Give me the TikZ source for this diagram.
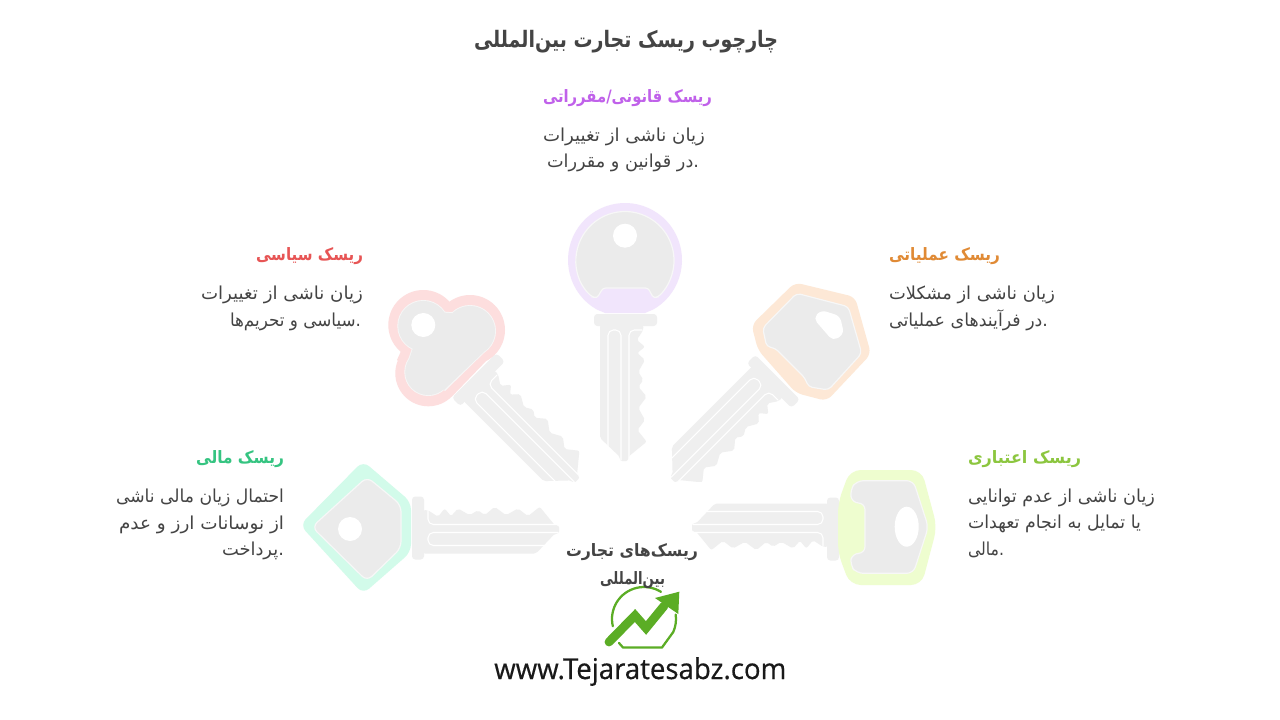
\documentclass[tikz,border=0pt]{standalone}
\usepackage{fontspec}
\usepackage{graphicx}
\TeXXeTstate=1
\newfontfamily\fa[Script=Arabic]{DejaVu Sans}
\newfontfamily\logofont[FakeBold=0.5]{Open Sans}
\definecolor{keygrey}{HTML}{EBEBEB}
\definecolor{bladegrey}{HTML}{EFEFEF}
\definecolor{txt}{HTML}{444444}
\definecolor{cpurple}{HTML}{C061EA}
\definecolor{cred}{HTML}{E75555}
\definecolor{corange}{HTML}{E08A35}
\definecolor{clime}{HTML}{8CC63F}
\definecolor{cgreen}{HTML}{35C481}
\definecolor{rpurple}{HTML}{F1E5FC}
\definecolor{rred}{HTML}{FDDEDE}
\definecolor{rorange}{HTML}{FDE8D6}
\definecolor{rlime}{HTML}{EEFDCF}
\definecolor{rgreen}{HTML}{D2FBEA}
\definecolor{logog}{HTML}{5BAD25}
\tikzset{
  line/.style={inner sep=0pt,outer sep=0pt,anchor=base west},
  whiteline/.style={draw=white,line width=0.8pt,line cap=round,line join=round},
  headline/.style={fill=keygrey,draw=white!60!keygrey,line width=0.9pt},
  logostroke/.style={draw=logog,line width=1.7pt,line cap=round,line join=round}
}
\newcommand{\bodyf}{\fa\fontsize{13.4pt}{16pt}\selectfont}
\newcommand{\headf}{\fa\bfseries\fontsize{12.8pt}{16pt}\selectfont}
\newcommand{\titlef}{\fa\bfseries\fontsize{17pt}{20pt}\selectfont}
% name, left, right, baseline, font, colour, text
\newcommand{\tline}[7]{%
  \pgfmathsetmacro\tw{(#3-#2)*0.75}%
  \node[line,text=#6] (#1) at (#2,#4) {\resizebox{\tw pt}{\height}{#5#7}};}
% x, y, rotation
\newcommand{\keyblade}[3]{%
\begin{scope}[shift={(#1,#2)},rotate=#3]
  \fill[bladegrey,rounded corners=2.5] (-31,-6) rectangle (32,6);
  \fill[bladegrey,rounded corners=1.5] (-25,5) -- (-25,118) -- (-5,137) -- (-5,141) -- (3,141) -- (3,137) -- (21.7,121.7)
    -- (12.3,110) -- (20,100) -- (13.3,88) -- (21.7,76.7) -- (13.3,66.7) -- (18.3,60) -- (13.3,51.7)
    -- (20,40) -- (12.3,33) -- (20,26.7) -- (11.7,20) -- (18.3,10) -- (18.3,5) -- cycle;
  \draw[whiteline,rounded corners=4] (-17,128) -- (-17,10) -- (-4,10) -- (-4,140);
  \draw[whiteline,rounded corners=4] (4,138) -- (4,10) -- (17,10);
\end{scope}}
\begin{document}
\begin{tikzpicture}[x=0.75pt,y=-0.75pt]
\useasboundingbox (0,0) rectangle (1280,720);
\fill[white] (0,0) rectangle (1280,720);

% --- purple key
\keyblade{625}{320}{0}
\fill[rpurple] (625,260) ++(120:57) arc[start angle=120,end angle=420,radius=57] -- (645,313) -- (605,313) -- cycle;
\draw[headline,rounded corners=2]
  (625,260.5) ++(132:49) arc[start angle=132,end angle=408,radius=49]
  -- (653.5,298) -- (648,288) -- (603,288) -- (597,298) -- cycle;
\fill[white] (625,235.7) circle[radius=12];

% --- red key
\begin{scope}
  \clip (0,0) rectangle (579,481);
  \keyblade{478}{380}{45}
\end{scope}
\fill[rred] (423.3,325) circle[radius=35] (470,330) circle[radius=35] (428.3,373.3) circle[radius=33]
  (424,300) -- (494,305) -- (496.7,350) -- (451.7,396.7) -- (397,360) -- cycle;
\fill[white!60!keygrey] (423.3,326) circle[radius=26] (470,331) circle[radius=26] (428.3,372) circle[radius=24]
  (425,310) -- (485,315) -- (488,349) -- (445,391) -- (408,360) -- cycle;
\fill[keygrey] (423.3,326) circle[radius=25.1] (470,331) circle[radius=25.1] (428.3,372) circle[radius=23.1]
  (425,311) -- (485,316) -- (487,349) -- (444,390) -- (409,360) -- cycle;
\fill[white] (423.3,325) circle[radius=12];

% --- orange key
\begin{scope}
  \clip (671,0) rectangle (1280,481);
  \keyblade{773}{381}{-45}
\end{scope}
\fill[rorange,rounded corners=5] (795,282.5) -- (855,297) -- (871,354) -- (826.7,401) -- (796,393) -- (758,350) -- (751.5,325) -- cycle;
\draw[headline,rounded corners=3]
  (796.7,293.3) -- (848.3,306.7) -- (861.7,353.3) -- (828.3,390) -- (808.3,386.7) -- (805,378) -- (775,348) -- (766.7,346.7) -- (762.7,328) -- cycle;
\fill[white,rounded corners=4] (813.3,318.3) -- (821,310) -- (840,316) -- (844,334) -- (833,341) -- cycle;

% --- green key
\keyblade{418}{528.5}{90}
\fill[rgreen,rounded corners=6] (363,461) -- (300,525) -- (363,594) -- (411,552) -- (411,502) -- cycle;
\draw[headline,rounded corners=5]
  (367,477) -- (312,527) -- (367,581) -- (401,548) -- (401,505) -- cycle;
\fill[white] (350,529) circle[radius=12];

% --- lime key
\keyblade{833}{528.5}{-90}
\fill[rlime,rounded corners=8] (850,470) -- (921.7,470) -- (937,527) -- (921.7,585) -- (850,585) -- (838,553) -- (838,503) -- cycle;
\draw[headline,rounded corners=5]
  (856.7,480.7) -- (913.3,480.7) -- (928.3,527) -- (913.3,573.3) -- (856.7,573.3) -- (850,565) -- (852,553.5) -- (865,553.3) -- (865,503) -- (852,503) -- (850,490) -- cycle;
\fill[white] (906.7,526.7) ellipse[x radius=12,y radius=20];

% --- logo
\draw[logostroke] (644,619) ++(167:32) arc[start angle=167,end angle=302,radius=32];
\draw[logostroke] (644,619) ++(-8:32) arc[start angle=-8,end angle=24,radius=32] -- (662,647.5) -- (623,647.5) -- (619,643);
\draw[draw=logog,line width=6.6pt,line join=miter,line cap=round] (609,642) -- (635,615.5) -- (646,628) -- (664,606);
\fill[logog] (679.3,591.7) -- (655,598) -- (678.3,614) -- cycle;
\node[inner sep=0pt,anchor=base west,text=black!90] (logotext) at (494,679) {\resizebox{219pt}{\height}{\logofont\fontsize{21.5pt}{26pt}\selectfont www.Tejaratesabz.com}};

% --- texts
\tline{title}{474}{778}{48}{\titlef}{txt}{\beginR چارچوب ریسک تجارت بین‌المللی\endR}
\tline{h1}{543}{712}{103}{\headf}{cpurple}{\beginR ریسک قانونی/مقرراتی\endR}
\tline{b1a}{543}{705}{142}{\bodyf}{txt}{\beginR زیان ناشی از تغییرات\endR}
\tline{b1b}{547}{699}{168}{\bodyf}{txt}{\beginR .در قوانین و مقررات\endR}
\tline{h2}{256}{363}{260}{\headf}{cred}{\beginR ریسک سیاسی\endR}
\tline{b2a}{201}{363}{299}{\bodyf}{txt}{\beginR زیان ناشی از تغییرات\endR}
\tline{b2b}{230}{361}{326}{\bodyf}{txt}{\beginR .سیاسی و تحریم‌ها\endR}
\tline{h3}{889}{1000}{260}{\headf}{corange}{\beginR ریسک عملیاتی\endR}
\tline{b3a}{889}{1055}{299}{\bodyf}{txt}{\beginR زیان ناشی از مشکلات\endR}
\tline{b3b}{889}{1048}{326}{\bodyf}{txt}{\beginR .در فرآیندهای عملیاتی\endR}
\tline{h4}{196}{284}{463}{\headf}{cgreen}{\beginR ریسک مالی\endR}
\tline{b4a}{116}{284}{502}{\bodyf}{txt}{\beginR احتمال زیان مالی ناشی\endR}
\tline{b4b}{119}{284}{529}{\bodyf}{txt}{\beginR از نوسانات ارز و عدم\endR}
\tline{b4c}{222}{284}{555}{\bodyf}{txt}{\beginR .پرداخت\endR}
\tline{h5}{968}{1081}{463}{\headf}{clime}{\beginR ریسک اعتباری\endR}
\tline{b5a}{968}{1155}{502}{\bodyf}{txt}{\beginR زیان ناشی از عدم توانایی\endR}
\tline{b5b}{968}{1141}{528}{\bodyf}{txt}{\beginR یا تمایل به انجام تعهدات\endR}
\tline{b5c}{968}{1004}{555}{\bodyf}{txt}{\beginR .مالی\endR}
\tline{c1}{566}{698}{556}{\headf}{txt}{\beginR ریسک‌های تجارت\endR}
\tline{c2}{600}{665}{584}{\headf}{txt}{\beginR بین‌المللی\endR}
\end{tikzpicture}
\end{document}
